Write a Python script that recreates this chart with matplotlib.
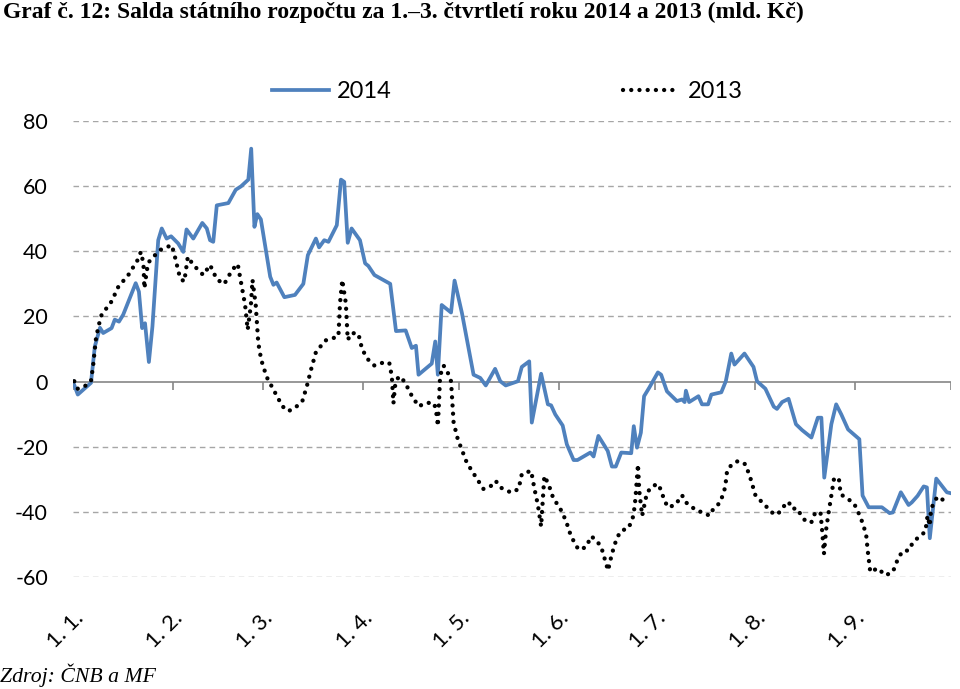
import numpy as np
import matplotlib
matplotlib.use('Agg')
import matplotlib.pyplot as plt

# den od 1. 1. (0 = 1. ledna) a saldo v mld. Kc
days_2014 = [0, 1.5, 5.6, 6.8, 8.4, 9.4, 12, 13, 14.3, 15.6, 19.5, 20.5, 21.5, 22.4, 23.6, 24.7,
             26.5, 27.6, 29.1, 30.5, 32.7, 34.3, 35.3, 37.4, 40.2, 41.6, 42.6, 43.6, 44.7, 48.3,
             50.6, 52.2, 54.5, 55.4, 56.4, 57.3, 58.4, 61.3, 62.3, 63.3, 65.7, 69, 71.6, 73, 75.5,
             76.5, 78.1, 79.4, 82, 83.3, 84.3, 85.4, 86.6, 89.2, 90.8, 91.8, 93.7, 98.6, 100.4,
             103.4, 105.3, 106.6, 107.4, 111.5, 112.6, 113.4, 114.6, 117.5, 118.6, 120.9, 124.5,
             126.6, 128.3, 131.2, 132.8, 134.5, 138.3, 139.5, 141.8, 142.6, 145.5, 147.6, 148.6,
             149.9, 152.2, 153.5, 155.6, 156.8, 160.8, 161.8, 163.3, 166.2, 167.5, 168.7, 170.4,
             173.5, 174.3, 175.3, 176.5, 177.5, 179.1, 181.8, 182.8, 184.6, 187.7, 189.3, 190.1,
             190.5, 191.5, 194.4, 195.5, 197.4, 198.4, 201.5, 202.9, 204.6, 205.6, 208.7, 211.5,
             212.6, 215.2, 217.8, 218.8, 220.4, 222.4, 224.7, 226.6, 229.5, 231.5, 232.6, 233.5,
             235.7, 237.2, 238.8, 240.9, 244.4, 245.4, 247.3, 251.4, 253.8, 254.8, 257.3, 259.7,
             260.7, 262.5, 264.4, 265.4, 266.3, 268.3, 271.6, 272.9]
vals_2014 = [0, -4.0, -0.4, 10.8, 16.5, 14.9, 16.4, 19, 18.4, 20.5, 30.2, 27.6, 16.4, 17.9, 6.0, 16.9,
             43.4, 47.0, 43.9, 44.6, 42.4, 39.8, 46.7, 43.9, 48.7, 47.0, 43.4, 42.9, 54.1, 54.8,
             58.9, 59.9, 62, 71.5, 47.5, 51.4, 49.8, 32.2, 29.7, 30.4, 25.9, 26.6, 30.0, 38.8, 43.9,
             41.2, 43.4, 42.9, 48, 62, 61.3, 42.6, 47, 43.4, 36.3, 35.5, 32.7, 30.0, 15.5,
             15.7, 10.3, 11.0, 2.1, 5.5, 12.3, 2.1, 23.5, 21.2, 31, 21, 2.1,
             1.1, -1.2, 3.9, 0.1, -1.2, 0.1, 4.5, 6.2, -12.6, 2.4, -7, -7.3,
             -10.1, -13.5, -19.3, -24.1, -24.1, -21.8, -23, -16.7, -21.3, -26.1, -26.1, -21.8,
             -22, -13.7, -20.3, -15.7, -4.5, -1.9, 2.8, 2.1, -3.0, -6, -5.5, -6.3,
             -2.8, -6.3, -4.5, -7, -7, -4, -3.3, 0.1, 8.6, 5.2, 8.6, 4.5,
             0.1, -2.2, -7.7, -8.4, -6.3, -5.3, -13.1, -14.9, -17.2, -11.1, -11.1, -29.5,
             -13.1, -7, -10.1, -14.7, -17.7, -35.0, -38.6, -38.6, -40.4, -40.2, -34.0, -37.9,
             -37.1, -35.1, -32.2, -32.5, -48.1, -29.8, -34, -34.3]

days_2013 = [0.4, 1.5, 3.7, 5.6, 6.3, 7.1, 7.9, 8.9, 12, 14.1, 17.2, 20.1, 21.1, 21.9, 22.2, 22.9,
             23.4, 25, 27.1, 30.7, 31.5, 33.3, 34.6, 35.7, 37.4, 40.5, 42.6, 44.7, 47, 49.5, 51.2,
             52.2, 53.5, 54.3, 55.3, 55.8, 56.8, 57.6, 58.5, 60.2, 62.6, 65.1, 66.9, 69, 71.3,
             72.7, 74, 75.5, 78.4, 80.2, 82.5, 83, 83.7, 84.8, 85.4, 86.6, 88.7, 89.9, 91.8,
             93.7, 96, 98.3, 99.1, 99.6, 100.1, 101.2, 103, 105.1, 107.4, 110, 112.3, 113.1,
             113.4, 113.8, 114.1, 115.2, 116.5, 117.5, 118.3, 119.6, 122.4, 125, 127.6, 130,
             131.4, 132.8, 136.2, 138.5, 139.5, 142.4, 143.4, 144.5, 145.5, 146.5, 147.8, 149.4,
             151.1, 153.2, 154.8, 157.1, 159.4, 161.1, 162.8, 164.2, 164.9, 166.3, 167.5, 169,
             170.4, 172.7, 174.2, 174.8, 175.6, 176, 176.9, 178.4, 180.2, 182, 183.9, 184.9,
             187.2, 189.3, 190.5, 193.9, 196, 197.8, 199.1, 201.2, 202.7, 203.3, 204.8, 206.7,
             209, 210.5, 212.1, 214, 216, 217.8, 219.1, 220.6, 222.4, 223.5, 225, 226.4, 227.8,
             229.5, 230.5, 232.3, 232.8, 233.4, 234.1, 234.7, 235.7, 236.5, 238, 238.6, 240.6,
             242.7, 244.8, 246.5, 247, 247.8, 250.1, 252.5, 254.8, 256.6, 258.1, 259.7, 261.1,
             262.8, 264.9, 265.6, 266.3, 266.7, 268.1, 269.4, 271.2]
vals_2013 = [0.1, -2.2, -1.4, 0.1, 5.2, 12.8, 16.9, 20.5, 24.6, 29.1, 32.7, 37.3, 39.8, 36.3, 28.6, 33.7,
             36.5, 38.3, 40.4, 41.9, 39.1, 31.7, 30.7, 38.3, 35.8, 32.7, 35.8, 31.4, 29.9, 34.3, 36.1,
             30.7, 23.5, 15.9, 23.5, 31.2, 23.5, 11.8, 6.7, 1.4, -3.0, -7.6, -9.1, -8.1, -6,
             -1.4, 3.7, 9.0, 12.6, 13.1, 13.9, 24.1, 31.2, 24.1, 12.8, 14.9, 14.7, 9.8, 6.7,
             4.9, 5.7, 5.8, 1.6, -6.7, -1.4, 1.6, 0.1, -4, -7.6, -6.5, -6.7, -10.6,
             -13.7, -5.5, 1.8, 4.9, 2.7, 0.1, -12.6, -17.7, -24.9, -29, -33, -32,
             -30.5, -32.5, -34.1, -33, -28.4, -27.4, -32.8, -37.9, -44.5, -29, -31.5, -36.2,
             -38.3, -42.7, -47.5, -51.6, -50.9, -47.5, -48.9, -50.9, -53.2, -58.0, -52.9, -48.1,
             -45.8, -45.0, -41.2, -36.1, -25.4, -33.5, -41.2, -34.1, -32, -31.5, -36.6, -38.6,
             -37.9, -34.9, -37.1, -39.7, -40.2, -41.2, -39.0, -37.1, -32.5, -27.4, -25.4, -24.4,
             -25.4, -29.5, -34.9, -36.9, -38.9, -40.7, -40.7, -38.6, -36.9, -39.1, -38.9, -41.2, -43,
             -43.2, -40.7, -40, -45.3, -52.9, -45.3, -41.2, -34.9, -30, -29.5, -34.6, -35.9,
             -37.3, -41.7, -46.8, -51.9, -58.5, -57.3, -59.5, -58.5, -53.9, -51.9, -51.9, -49.3,
             -47.8, -46.1, -41.2, -44.3, -39.1, -36.1, -35.3, -37.3]

month_starts = [0, 31, 59, 90, 120, 151, 181, 212, 243, 273]
month_labels = ['1. 1.', '1. 2.', '1. 3.', '1. 4.', '1. 5.', '1. 6.', '1. 7.', '1. 8.', '1. 9.']
yticks = [-60, -40, -20, 0, 20, 40, 60, 80]

label_font = 'Lato'
serif_font = 'Liberation Serif'

fig = plt.figure(figsize=(9.6, 6.89), dpi=100)
ax = fig.add_axes([0.076, 0.1626, 0.915, 0.6618])

# mrizka
for y in yticks:
    if y != 0:
        ax.axhline(y, color='#a6a6a6', lw=1.0, ls=(0, (4, 3)), zorder=1)
ax.axhline(0, color='#868686', lw=1.2, zorder=2)
ax.vlines(month_starts, -2.5, 0, color='#868686', lw=1.2, zorder=2)

ax.plot(days_2014, vals_2014, color='#4f81bd', lw=2.7, solid_joinstyle='round',
        label='2014', zorder=3)
ax.plot(days_2013, vals_2013, color='black', lw=3.1, ls=(0, (0.01, 1.9)),
        dash_capstyle='round', label='2013', zorder=4)

ax.set_xlim(0, 273)
ax.set_ylim(-60, 80)
for s in ax.spines.values():
    s.set_visible(False)

ax.set_yticks(yticks)
ax.set_yticklabels([str(v) for v in yticks], fontsize=15.5, family=label_font)
ax.tick_params(axis='y', length=0, pad=18)
ax.set_xticks(month_starts[:-1])
ax.set_xticklabels(month_labels, fontsize=16, family=label_font, rotation=45,
                   ha='right', rotation_mode='anchor')
ax.tick_params(axis='x', length=0, pad=22)

leg = ax.legend(loc='center', bbox_to_anchor=(0.495, 1.064), ncol=2, frameon=False,
                prop={'family': label_font, 'size': 17}, handlelength=2.4,
                columnspacing=9.8, handletextpad=0.35)

fig.text(0.003, 0.997, 'Graf č. 12: Salda státního rozpočtu za 1.–3. čtvrtletí roku 2014 a 2013 (mld. Kč)',
         ha='left', va='top', fontsize=17, fontweight='bold', family=serif_font)
fig.text(0.0, 0.003, 'Zdroj: ČNB a MF', ha='left', va='bottom', fontsize=15.7,
         style='italic', family=serif_font)

fig.savefig('out.png', dpi=100)
